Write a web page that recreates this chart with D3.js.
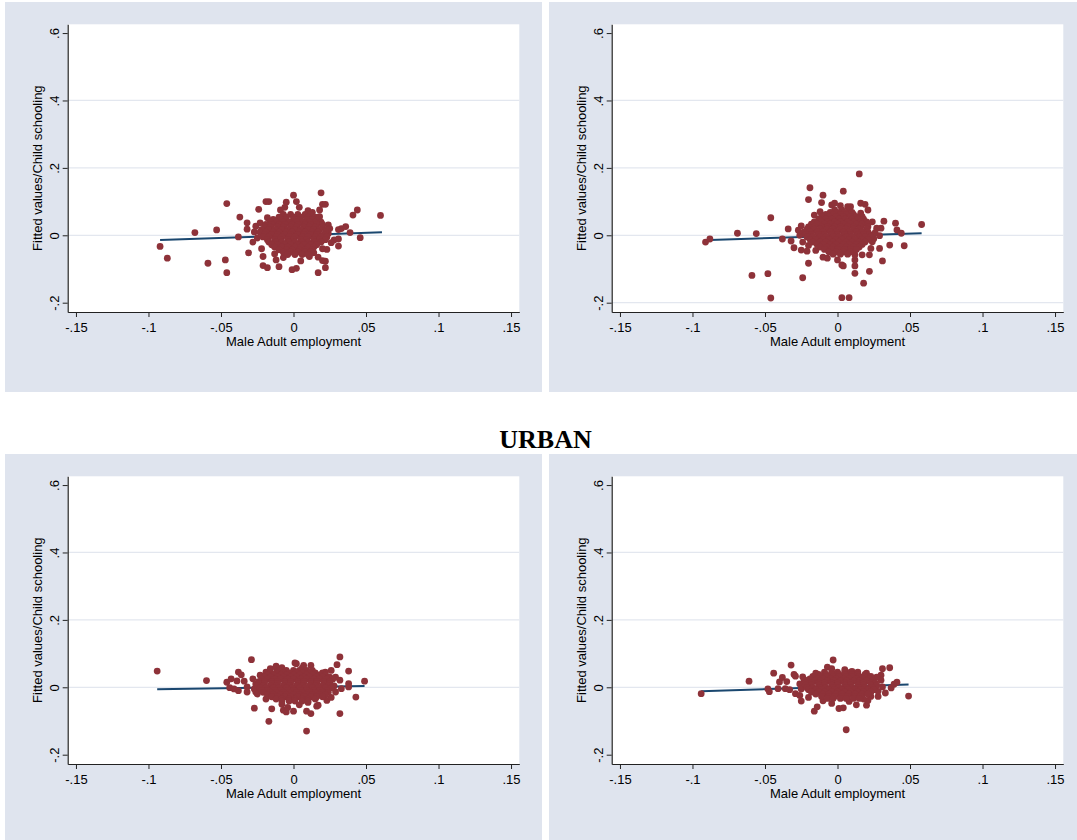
<!DOCTYPE html>
<html>
<head>
<meta charset="utf-8">
<script src="https://cdn.jsdelivr.net/npm/d3@7"></script>
<style>
  body { margin: 0; background: #ffffff; }
  svg { display: block; }
</style>
</head>
<body>
<svg id="chart" width="1077" height="840"></svg>
<script>
// Four Stata style scatter panels: child schooling residuals against
// male adult employment, with the fitted regression line over them.

let xTicks = [-0.15, -0.1, -0.05, 0, 0.05, 0.1, 0.15];
let xTickLabels = ["-.15", "-.1", "-.05", "0", ".05", ".1", ".15"];
let yTicks = [-0.2, 0, 0.2, 0.4, 0.6];
let yTickLabels = ["-.2", "0", ".2", ".4", ".6"];

let xTitle = "Male Adult employment";
let yTitle = "Fitted values/Child schooling";
let midTitle = "URBAN";

// top left panel
let tlPoints = [
  [-0.092,-0.033],[-0.087,-0.068],[-0.068,0.008],[-0.059,-0.083],[-0.053,0.016],[-0.046,0.094],
  [-0.047,-0.073],[-0.046,-0.111],[-0.038,-0.005],[-0.037,0.054],[-0.031,-0.052],[-0.024,0.077],
  [-0.019,0.100],[-0.017,0.100],[-0.021,-0.063],[-0.021,-0.090],[-0.018,-0.096],[-0.010,-0.093],
  [-0.012,-0.073],[-0.022,-0.040],[-0.005,0.098],[0.000,0.119],[0.002,0.100],[0.002,-0.098],
  [-0.001,-0.102],[0.005,-0.076],[0.019,0.126],[0.020,0.092],[0.022,0.092],[0.018,0.075],
  [0.017,-0.111],[0.017,-0.065],[0.020,-0.075],[0.022,-0.077],[0.022,-0.096],[0.023,-0.042],
  [0.024,0.031],[0.028,-0.014],[0.031,-0.011],[0.031,-0.032],[0.031,0.017],[0.033,0.020],
  [0.036,0.026],[0.039,0.008],[0.041,0.060],[0.044,0.075],[0.046,-0.007],[0.060,0.059],
  [-0.032,0.037],[-0.032,0.018],[-0.026,0.027],[-0.023,0.037],[-0.027,0.010],[-0.025,-0.008],
  [-0.028,-0.020],[-0.009,0.075],[-0.006,0.083],[0.004,0.083],[0.010,0.073],[0.013,0.068],
  [0.024,0.005],[0.026,-0.022],[0.025,0.020],[-0.013,-0.055],[0.014,-0.052],[-0.007,-0.066],
  [0.011,-0.063],[-0.018,0.052],[0.018,0.055],[0.020,-0.040],
  [-0.007,0.062],[-0.002,0.062],[0.003,0.062],[0.008,0.062],[0.012,0.062],
  [-0.010,0.054],[-0.005,0.054],[0.000,0.054],[0.005,0.054],[0.010,0.054],[0.015,0.054],
  [-0.014,0.047],[-0.009,0.047],[-0.005,0.047],[0.000,0.047],[0.004,0.047],[0.009,0.047],[0.013,0.047],[0.017,0.047],
  [-0.016,0.039],[-0.012,0.039],[-0.007,0.039],[-0.003,0.039],[0.002,0.039],[0.006,0.039],[0.011,0.039],[0.015,0.039],[0.019,0.039],
  [-0.019,0.032],[-0.015,0.032],[-0.010,0.032],[-0.006,0.032],[-0.001,0.032],[0.003,0.032],[0.008,0.032],[0.012,0.032],[0.016,0.032],[0.020,0.032],
  [-0.020,0.024],[-0.016,0.024],[-0.011,0.024],[-0.007,0.024],[-0.002,0.024],[0.002,0.024],[0.007,0.024],[0.011,0.024],[0.015,0.024],[0.020,0.024],
  [-0.022,0.017],[-0.017,0.017],[-0.013,0.017],[-0.008,0.017],[-0.004,0.017],[0.001,0.017],[0.005,0.017],[0.010,0.017],[0.014,0.017],[0.018,0.017],[0.023,0.017],
  [-0.023,0.009],[-0.019,0.009],[-0.014,0.009],[-0.010,0.009],[-0.005,0.009],[-0.001,0.009],[0.004,0.009],[0.008,0.009],[0.013,0.009],[0.017,0.009],[0.022,0.009],
  [-0.020,0.002],[-0.015,0.002],[-0.011,0.002],[-0.006,0.002],[-0.002,0.002],[0.003,0.002],[0.007,0.002],[0.012,0.002],[0.016,0.002],[0.021,0.002],
  [-0.021,-0.005],[-0.017,-0.005],[-0.012,-0.005],[-0.008,-0.005],[-0.003,-0.005],[0.001,-0.005],[0.006,-0.005],[0.010,-0.005],[0.015,-0.005],[0.019,-0.005],[0.023,-0.005],
  [-0.018,-0.013],[-0.013,-0.013],[-0.009,-0.013],[-0.004,-0.013],[0.000,-0.013],[0.005,-0.013],[0.009,-0.013],[0.014,-0.013],[0.018,-0.013],[0.022,-0.013],
  [-0.017,-0.020],[-0.012,-0.020],[-0.008,-0.020],[-0.003,-0.020],[0.001,-0.020],[0.006,-0.020],[0.010,-0.020],[0.015,-0.020],[0.019,-0.020],
  [-0.015,-0.028],[-0.011,-0.028],[-0.006,-0.028],[-0.002,-0.028],[0.003,-0.028],[0.007,-0.028],[0.012,-0.028],[0.016,-0.028],
  [-0.013,-0.035],[-0.008,-0.035],[-0.004,-0.035],[0.001,-0.035],[0.005,-0.035],[0.010,-0.035],[0.014,-0.035],
  [-0.010,-0.043],[-0.005,-0.043],[-0.001,-0.043],[0.004,-0.043],[0.008,-0.043],[0.013,-0.043],
  [-0.007,-0.050],[-0.002,-0.050],[0.003,-0.050],[0.008,-0.050],[0.012,-0.050],
  [-0.004,-0.057],[0.001,-0.057],[0.006,-0.057],[0.010,-0.057]
];
let tlFitX = [-0.092, 0.061];
let tlFitY = [-0.014, 0.009];

// top right panel
let trPoints = [
  [-0.091,-0.020],[-0.088,-0.011],[-0.069,0.006],[-0.056,0.005],[-0.046,0.052],[-0.059,-0.119],
  [-0.048,-0.114],[-0.046,-0.186],[-0.034,0.019],[-0.038,-0.011],[-0.032,-0.017],[-0.030,-0.037],
  [-0.024,-0.126],[-0.020,-0.083],[-0.025,-0.044],[-0.021,-0.047],[-0.015,-0.045],[-0.019,0.141],
  [-0.020,0.106],[-0.010,0.119],[-0.011,0.097],[0.004,0.131],[0.015,0.182],[0.016,0.095],
  [0.019,0.092],[0.021,0.075],[0.009,0.085],[-0.010,-0.065],[-0.007,-0.068],[0.000,-0.073],
  [0.003,-0.088],[0.004,-0.091],[0.003,-0.185],[0.008,-0.185],[0.012,-0.113],[0.012,-0.091],
  [0.012,-0.073],[0.012,-0.058],[0.012,-0.044],[0.017,-0.058],[0.022,-0.107],[0.018,-0.142],
  [0.022,-0.058],[0.023,-0.039],[0.024,-0.019],[0.029,-0.039],[0.031,-0.076],[0.036,-0.029],
  [0.029,-0.001],[0.030,0.021],[0.032,0.042],[0.040,0.036],[0.041,0.016],[0.044,0.006],
  [0.046,-0.031],[0.058,0.032],[0.026,0.008],[0.027,0.021],
  [-0.025,0.028],[-0.027,0.015],[-0.026,0.000],[-0.024,-0.020],[-0.020,-0.030],[0.024,0.040],
  [0.025,-0.010],[-0.016,0.060],[0.016,0.066],[-0.012,0.070],[0.002,0.088],[0.007,0.085],
  [-0.004,0.090],[-0.002,0.095],
  [-0.002,0.075],[0.003,0.075],[0.008,0.075],
  [-0.005,0.068],[0.000,0.068],[0.005,0.068],[0.010,0.068],
  [-0.008,0.062],[-0.003,0.062],[0.002,0.062],[0.006,0.062],[0.011,0.062],
  [-0.011,0.055],[-0.006,0.055],[-0.001,0.055],[0.004,0.055],[0.009,0.055],[0.013,0.055],[0.017,0.055],
  [-0.013,0.048],[-0.008,0.048],[-0.004,0.048],[0.001,0.048],[0.005,0.048],[0.010,0.048],[0.014,0.048],[0.018,0.048],
  [-0.016,0.040],[-0.011,0.040],[-0.007,0.040],[-0.002,0.040],[0.002,0.040],[0.007,0.040],[0.011,0.040],[0.016,0.040],[0.020,0.040],
  [-0.018,0.033],[-0.014,0.033],[-0.009,0.033],[-0.005,0.033],[0.000,0.033],[0.004,0.033],[0.009,0.033],[0.013,0.033],[0.017,0.033],[0.021,0.033],
  [-0.020,0.025],[-0.016,0.025],[-0.011,0.025],[-0.007,0.025],[-0.002,0.025],[0.002,0.025],[0.007,0.025],[0.011,0.025],[0.016,0.025],[0.021,0.025],
  [-0.021,0.018],[-0.016,0.018],[-0.012,0.018],[-0.007,0.018],[-0.003,0.018],[0.002,0.018],[0.006,0.018],[0.011,0.018],[0.015,0.018],[0.020,0.018],
  [-0.023,0.010],[-0.019,0.010],[-0.014,0.010],[-0.010,0.010],[-0.005,0.010],[-0.001,0.010],[0.004,0.010],[0.008,0.010],[0.013,0.010],[0.017,0.010],[0.021,0.010],
  [-0.022,0.003],[-0.018,0.003],[-0.013,0.003],[-0.009,0.003],[-0.004,0.003],[0.000,0.003],[0.005,0.003],[0.009,0.003],[0.014,0.003],[0.018,0.003],[0.022,0.003],
  [-0.021,-0.005],[-0.017,-0.005],[-0.012,-0.005],[-0.008,-0.005],[-0.003,-0.005],[0.001,-0.005],[0.006,-0.005],[0.010,-0.005],[0.015,-0.005],[0.019,-0.005],[0.023,-0.005],
  [-0.019,-0.012],[-0.015,-0.012],[-0.010,-0.012],[-0.006,-0.012],[-0.001,-0.012],[0.003,-0.012],[0.008,-0.012],[0.012,-0.012],[0.017,-0.012],[0.021,-0.012],
  [-0.017,-0.020],[-0.012,-0.020],[-0.008,-0.020],[-0.003,-0.020],[0.001,-0.020],[0.006,-0.020],[0.010,-0.020],[0.015,-0.020],[0.019,-0.020],
  [-0.014,-0.027],[-0.010,-0.027],[-0.005,-0.027],[-0.001,-0.027],[0.004,-0.027],[0.008,-0.027],[0.013,-0.027],[0.017,-0.027],
  [-0.012,-0.035],[-0.007,-0.035],[-0.003,-0.035],[0.002,-0.035],[0.006,-0.035],[0.011,-0.035],[0.015,-0.035],
  [-0.009,-0.042],[-0.004,-0.042],[0.000,-0.042],[0.005,-0.042],[0.009,-0.042],[0.013,-0.042],
  [-0.006,-0.049],[-0.001,-0.049],[0.004,-0.049],[0.009,-0.049],
  [-0.003,-0.056],[0.002,-0.056],[0.007,-0.056]
];
let trFitX = [-0.088, 0.058];
let trFitY = [-0.014, 0.006];

// bottom left panel
let blPoints = [
  [-0.094,0.048],[-0.060,0.020],[-0.046,0.015],[-0.043,0.025],[-0.039,0.019],[-0.038,0.045],
  [-0.036,0.037],[-0.034,0.018],[-0.044,-0.001],[-0.041,-0.005],[-0.038,-0.010],[-0.032,0.001],
  [-0.032,-0.014],[-0.029,0.082],[-0.027,-0.062],[-0.026,-0.014],[-0.017,-0.101],[-0.015,-0.064],
  [-0.023,0.036],[-0.016,0.055],[-0.012,0.063],[-0.008,0.058],[-0.007,-0.068],[-0.005,-0.073],
  [0.000,-0.071],[0.001,0.072],[0.002,0.070],[0.007,0.065],[0.012,0.065],[0.009,-0.071],
  [0.012,-0.078],[0.009,-0.130],[0.016,-0.056],[0.017,-0.053],[0.023,-0.039],[0.026,0.050],
  [0.030,0.067],[0.032,0.090],[0.032,-0.078],[0.032,0.021],[0.033,-0.004],[0.038,0.048],
  [0.038,0.011],[0.038,0.001],[0.043,-0.029],[0.049,0.018],[0.027,0.001],[0.029,-0.014],
  [-0.028,0.025],[-0.026,0.010],[-0.027,-0.005],[-0.025,-0.020],[-0.019,-0.035],[0.026,-0.030],
  [0.029,0.030],[-0.008,-0.050],[0.004,-0.052],[-0.004,-0.060],[0.010,-0.045],[-0.012,0.058],
  [0.006,0.057],[-0.019,0.045],[0.022,0.045],
  [-0.010,0.050],[-0.005,0.050],[0.000,0.050],[0.004,0.050],[0.009,0.050],[0.013,0.050],
  [-0.016,0.043],[-0.012,0.043],[-0.007,0.043],[-0.003,0.043],[0.002,0.043],[0.006,0.043],[0.011,0.043],[0.015,0.043],[0.020,0.043],
  [-0.018,0.037],[-0.014,0.037],[-0.009,0.037],[-0.005,0.037],[0.000,0.037],[0.004,0.037],[0.009,0.037],[0.013,0.037],[0.018,0.037],[0.022,0.037],
  [-0.020,0.030],[-0.016,0.030],[-0.011,0.030],[-0.007,0.030],[-0.002,0.030],[0.002,0.030],[0.007,0.030],[0.011,0.030],[0.016,0.030],[0.020,0.030],[0.025,0.030],
  [-0.022,0.024],[-0.018,0.024],[-0.013,0.024],[-0.009,0.024],[-0.004,0.024],[0.000,0.024],[0.005,0.024],[0.009,0.024],[0.014,0.024],[0.018,0.024],[0.023,0.024],[0.027,0.024],
  [-0.024,0.017],[-0.020,0.017],[-0.015,0.017],[-0.011,0.017],[-0.006,0.017],[-0.002,0.017],[0.003,0.017],[0.007,0.017],[0.012,0.017],[0.016,0.017],[0.021,0.017],[0.025,0.017],
  [-0.024,0.011],[-0.020,0.011],[-0.015,0.011],[-0.011,0.011],[-0.006,0.011],[-0.002,0.011],[0.003,0.011],[0.007,0.011],[0.012,0.011],[0.016,0.011],[0.021,0.011],[0.025,0.011],
  [-0.025,0.004],[-0.021,0.004],[-0.016,0.004],[-0.012,0.004],[-0.007,0.004],[-0.003,0.004],[0.002,0.004],[0.006,0.004],[0.011,0.004],[0.015,0.004],[0.020,0.004],[0.024,0.004],[0.028,0.004],
  [-0.023,-0.002],[-0.019,-0.002],[-0.014,-0.002],[-0.010,-0.002],[-0.005,-0.002],[-0.001,-0.002],[0.004,-0.002],[0.008,-0.002],[0.013,-0.002],[0.017,-0.002],[0.022,-0.002],[0.026,-0.002],
  [-0.022,-0.009],[-0.018,-0.009],[-0.013,-0.009],[-0.009,-0.009],[-0.004,-0.009],[0.000,-0.009],[0.005,-0.009],[0.009,-0.009],[0.014,-0.009],[0.018,-0.009],[0.023,-0.009],
  [-0.021,-0.015],[-0.016,-0.015],[-0.012,-0.015],[-0.007,-0.015],[-0.003,-0.015],[0.002,-0.015],[0.006,-0.015],[0.011,-0.015],[0.015,-0.015],[0.020,-0.015],[0.024,-0.015],
  [-0.018,-0.022],[-0.014,-0.022],[-0.009,-0.022],[-0.005,-0.022],[0.000,-0.022],[0.004,-0.022],[0.009,-0.022],[0.013,-0.022],[0.018,-0.022],[0.022,-0.022],
  [-0.015,-0.028],[-0.011,-0.028],[-0.006,-0.028],[-0.002,-0.028],[0.003,-0.028],[0.007,-0.028],[0.012,-0.028],[0.016,-0.028],[0.020,-0.028],
  [-0.012,-0.035],[-0.008,-0.035],[-0.003,-0.035],[0.001,-0.035],[0.006,-0.035],[0.010,-0.035],[0.015,-0.035],
  [-0.008,-0.041],[-0.003,-0.041],[0.001,-0.041],[0.006,-0.041],[0.010,-0.041]
];
let blFitX = [-0.094, 0.049];
let blFitY = [-0.006, 0.004];

// bottom right panel
let brPoints = [
  [-0.094,-0.019],[-0.061,0.018],[-0.048,-0.005],[-0.047,-0.013],[-0.044,0.042],[-0.040,0.016],
  [-0.038,0.029],[-0.035,0.017],[-0.041,-0.004],[-0.032,0.066],[-0.030,0.038],[-0.029,0.033],
  [-0.036,-0.004],[-0.033,-0.007],[-0.029,-0.019],[-0.026,-0.024],[-0.025,-0.041],[-0.024,0.031],
  [-0.023,0.023],[-0.016,-0.071],[-0.014,-0.058],[-0.007,0.060],[-0.003,0.081],[0.001,-0.063],
  [0.004,-0.061],[-0.004,-0.048],[0.006,-0.126],[0.010,0.047],[0.013,-0.052],[0.020,-0.053],
  [0.021,-0.039],[0.023,-0.027],[0.028,-0.027],[0.031,0.055],[0.036,0.058],[0.030,0.036],
  [0.030,0.021],[0.033,-0.017],[0.031,0.001],[0.037,-0.002],[0.039,0.009],[0.041,0.015],
  [0.049,-0.026],[0.024,0.010],[0.026,-0.002],
  [-0.026,0.010],[-0.025,-0.005],[-0.020,-0.030],[0.027,0.030],[0.028,-0.012],[-0.004,0.055],
  [0.005,0.052],[-0.010,-0.040],[0.008,-0.042],[0.018,-0.035],[-0.015,0.042],[0.020,0.042],
  [-0.009,0.045],[-0.004,0.045],[0.000,0.045],[0.005,0.045],[0.009,0.045],[0.014,0.045],
  [-0.013,0.038],[-0.008,0.038],[-0.004,0.038],[0.001,0.038],[0.005,0.038],[0.010,0.038],[0.014,0.038],[0.019,0.038],
  [-0.017,0.032],[-0.012,0.032],[-0.008,0.032],[-0.003,0.032],[0.001,0.032],[0.006,0.032],[0.010,0.032],[0.015,0.032],[0.019,0.032],[0.023,0.032],
  [-0.019,0.025],[-0.014,0.025],[-0.010,0.025],[-0.005,0.025],[-0.001,0.025],[0.004,0.025],[0.008,0.025],[0.013,0.025],[0.017,0.025],[0.022,0.025],
  [-0.021,0.019],[-0.016,0.019],[-0.012,0.019],[-0.007,0.019],[-0.003,0.019],[0.002,0.019],[0.006,0.019],[0.011,0.019],[0.015,0.019],[0.020,0.019],[0.024,0.019],
  [-0.022,0.012],[-0.018,0.012],[-0.013,0.012],[-0.009,0.012],[-0.004,0.012],[0.000,0.012],[0.005,0.012],[0.009,0.012],[0.014,0.012],[0.018,0.012],[0.023,0.012],[0.026,0.012],
  [-0.022,0.006],[-0.018,0.006],[-0.013,0.006],[-0.009,0.006],[-0.004,0.006],[0.000,0.006],[0.005,0.006],[0.009,0.006],[0.014,0.006],[0.018,0.006],[0.023,0.006],[0.027,0.006],
  [-0.021,-0.001],[-0.017,-0.001],[-0.012,-0.001],[-0.008,-0.001],[-0.003,-0.001],[0.001,-0.001],[0.006,-0.001],[0.010,-0.001],[0.015,-0.001],[0.019,-0.001],[0.024,-0.001],
  [-0.020,-0.007],[-0.015,-0.007],[-0.011,-0.007],[-0.006,-0.007],[-0.002,-0.007],[0.003,-0.007],[0.007,-0.007],[0.012,-0.007],[0.016,-0.007],[0.021,-0.007],[0.025,-0.007],
  [-0.018,-0.014],[-0.013,-0.014],[-0.009,-0.014],[-0.004,-0.014],[0.000,-0.014],[0.005,-0.014],[0.009,-0.014],[0.014,-0.014],[0.018,-0.014],[0.023,-0.014],
  [-0.015,-0.020],[-0.010,-0.020],[-0.006,-0.020],[-0.001,-0.020],[0.003,-0.020],[0.008,-0.020],[0.012,-0.020],[0.017,-0.020],[0.021,-0.020],
  [-0.011,-0.027],[-0.006,-0.027],[-0.002,-0.027],[0.003,-0.027],[0.007,-0.027],[0.012,-0.027],[0.016,-0.027],
  [-0.007,-0.033],[-0.003,-0.033],[0.002,-0.033],[0.006,-0.033],[0.011,-0.033],[0.015,-0.033]
];
let brFitX = [-0.094, 0.049];
let brFitY = [-0.012, 0.008];

let BG = "#dfe4ee";
let GRID = "#e3e7ef";
let DOT = "#8e3239";
let FIT = "#1a476f";
let FONT = "'Liberation Sans', Arial, sans-serif";

let panels = [
  {x: 5,   y: 2,   h: 390, points: tlPoints, fitX: tlFitX, fitY: tlFitY, grid: [0, 0.2, 0.4]},
  {x: 549, y: 2,   h: 390, points: trPoints, fitX: trFitX, fitY: trFitY, grid: [-0.2, 0, 0.2, 0.4]},
  {x: 5,   y: 454, h: 386, points: blPoints, fitX: blFitX, fitY: blFitY, grid: [0, 0.2, 0.4]},
  {x: 549, y: 454, h: 386, points: brPoints, fitX: brFitX, fitY: brFitY, grid: [0, 0.2, 0.4]}
];

let svg = d3.select("#chart");

function drawPanel(p) {
  let g = svg.append("g").attr("transform", "translate(" + p.x + "," + p.y + ")");
  let left = 62.7, top = 22.3, right = 514.3, bottom = 310;

  g.append("rect").attr("width", 537).attr("height", p.h).attr("fill", BG);
  g.append("rect")
    .attr("x", left).attr("y", top)
    .attr("width", right - left).attr("height", bottom - top)
    .attr("fill", "#ffffff");

  let x = d3.scaleLinear().domain([-0.1557, 0.1557]).range([left, right]);
  let y = d3.scaleLinear().domain([-0.2276, 0.626]).range([bottom, top]);

  g.selectAll("line.grid")
    .data(p.grid)
    .enter().append("line")
      .attr("class", "grid")
      .attr("x1", left).attr("x2", right)
      .attr("y1", d => y(d)).attr("y2", d => y(d))
      .attr("stroke", GRID).attr("stroke-width", 1.3);

  let line = d3.line().x(d => x(d[0])).y(d => y(d[1]));
  g.append("path")
    .datum(d3.zip(p.fitX, p.fitY))
    .attr("d", line)
    .attr("fill", "none")
    .attr("stroke", FIT)
    .attr("stroke-width", 2);

  g.selectAll("circle")
    .data(p.points)
    .enter().append("circle")
      .attr("cx", d => x(d[0]))
      .attr("cy", d => y(d[1]))
      .attr("r", 3.4)
      .attr("fill", DOT);

  let xAxis = g.append("g")
    .attr("transform", "translate(0," + bottom + ")")
    .call(d3.axisBottom(x).tickValues(xTicks)
      .tickFormat((d, i) => xTickLabels[i])
      .tickSize(5).tickSizeOuter(0).tickPadding(5.5));

  let yAxis = g.append("g")
    .attr("transform", "translate(" + left + ",0)")
    .call(d3.axisLeft(y).tickValues(yTicks)
      .tickFormat((d, i) => yTickLabels[i])
      .tickSize(5).tickSizeOuter(0));

  yAxis.selectAll(".tick text")
    .attr("transform", "rotate(-90)")
    .attr("x", 0).attr("y", -9).attr("dy", 0)
    .attr("text-anchor", "middle");

  [xAxis, yAxis].forEach(a => {
    a.selectAll("text").attr("font-family", FONT).attr("font-size", 13).attr("fill", "#000");
    a.selectAll("line").attr("stroke", "#222");
    a.select(".domain").attr("stroke", "#222").attr("stroke-width", 1.2);
  });

  g.append("text")
    .attr("x", (left + right) / 2).attr("y", bottom + 33.5)
    .attr("text-anchor", "middle")
    .attr("font-family", FONT).attr("font-size", 13)
    .text(xTitle);

  g.append("text")
    .attr("transform", "translate(36.5," + (top + bottom) / 2 + ") rotate(-90)")
    .attr("text-anchor", "middle")
    .attr("font-family", FONT).attr("font-size", 13)
    .text(yTitle);
}

panels.forEach(drawPanel);

svg.append("text")
  .attr("x", 545.5).attr("y", 448)
  .attr("text-anchor", "middle")
  .attr("font-family", "'Liberation Serif', 'Times New Roman', serif")
  .attr("font-weight", "bold")
  .attr("font-size", 26)
  .text(midTitle);
</script>
</body>
</html>
